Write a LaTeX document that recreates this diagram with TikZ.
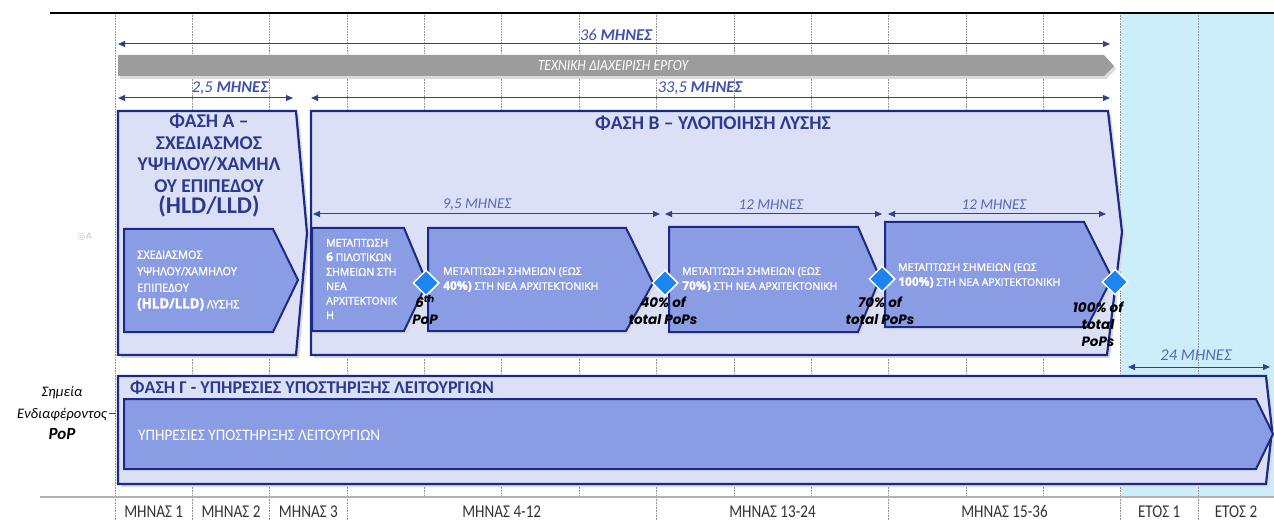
\documentclass[tikz,border=0pt]{standalone}
\usepackage{fontspec}
\setmainfont{Carlito}
\newfontfamily\widefont[FakeBold=1.5]{Open Sans}
\newfontfamily\popfont{Poppins}
\newfontfamily\dejafont{DejaVu Sans}
\usetikzlibrary{arrows.meta,shapes.geometric}
\definecolor{navy}{HTML}{1B2A87}
\definecolor{lav}{HTML}{DCE0F6}
\definecolor{midblue}{HTML}{8A9DE4}
\definecolor{ttl}{HTML}{2B3A90}
\definecolor{dur}{HTML}{3F52AE}
\definecolor{durlight}{HTML}{5468BE}
\definecolor{arr}{HTML}{2D438F}
\definecolor{cyanbg}{HTML}{CCEEFA}
\definecolor{barg}{HTML}{9C9C9C}
\definecolor{dia}{HTML}{1C86F0}
\tikzset{
  outerbox/.style={draw=navy, line width=2.2pt, fill=lav, line join=miter},
  innerbox/.style={draw=navy, line width=2pt, fill=midblue, line join=miter},
  shadowbox/.style={fill=black!14},
  durarrow/.style={draw=arr, line width=1pt, {Triangle[length=7pt,width=6pt]}-{Triangle[length=7pt,width=6pt]}},
  durlabel/.style={text=dur, font=\itshape\fontsize{16.5}{16}\selectfont, inner sep=1pt},
  sublabel/.style={text=durlight, font=\itshape\fontsize{15}{15}\selectfont, inner sep=1pt},
  gridline/.style={draw=gray!85, densely dotted, line width=0.6pt},
  milestone/.style={diamond, fill=dia, draw=white, line width=1.5pt, minimum size=26pt, inner sep=0pt},
  mslabel/.style={font=\popfont\bfseries\itshape\fontsize{13.5}{17}\selectfont, align=center, text=black, inner sep=0pt},
  intext/.style={text=white, align=left, inner sep=0pt, anchor=west},
  titletext/.style={text=ttl, font=\bfseries, inner sep=0pt},
  axislabel/.style={text=black!80, font=\fontsize{18}{18}\selectfont, inner sep=0pt, xscale=0.84, transform shape}
}
\begin{document}
\begin{tikzpicture}[x=1pt,y=-1pt]
\useasboundingbox (0,0) rectangle (1274,521);
\fill[white] (0,0) rectangle (1274,521);
% background year zone
\fill[cyanbg] (1120.5,13) rectangle (1274,497);
% grid
\foreach \k in {0,...,14} \draw[gridline] ({115+77.35*\k},13) -- ({115+77.35*\k},497);
\foreach \xx in {115,192.35,269.7,347.05,656.45,888.5,1120.55,1197.9} \draw[gridline] (\xx,497) -- (\xx,521);
% top and bottom axes
\coordinate (topL) at (50,13); \coordinate (topR) at (1274,13);
\draw[line width=2.5pt] (topL) -- (topR);
\coordinate (axL) at (40,497); \coordinate (axR) at (1274,497);
\draw[gray!60, line width=1.2pt] (axL) -- (axR);
% watermark
\node[text=gray!45, font=\dejafont\fontsize{9}{9}\selectfont, inner sep=0pt] (wm) at (85,237) {◎A};

% 36 months
\coordinate (a36L) at (118,44); \coordinate (a36R) at (1110,44);
\draw[durarrow] (a36L) -- (a36R);
\node[durlabel] (l36) at (616,34.5) {36 \textbf{ΜΗΝΕΣ}};
% grey bar
\fill[shadowbox] (120,58) -- (1106,58) -- (1116,69) -- (1106,79) -- (120,79) -- cycle;
\fill[barg] (118,55) -- (1104,55) -- (1114,66) -- (1104,76) -- (118,76) -- cycle;
\node[text=white, font=\itshape\fontsize{15.5}{15}\selectfont, inner sep=0pt, xscale=0.88, transform shape] (bar) at (613,65.5) {ΤΕΧΝΙΚΗ ΔΙΑΧΕΙΡΙΣΗ ΕΡΓΟΥ};
% 2,5 and 33,5 months
\coordinate (a25L) at (118,98); \coordinate (a25R) at (293,98);
\draw[durarrow] (a25L) -- (a25R);
\node[durlabel] (l25) at (230,88.5) {2,5 \textbf{ΜΗΝΕΣ}};
\coordinate (a335L) at (311,98); \coordinate (a335R) at (1110,98);
\draw[durarrow] (a335L) -- (a335R);
\node[durlabel] (l335) at (700,88.5) {33,5 \textbf{ΜΗΝΕΣ}};

% Phase A
\fill[shadowbox] (121,114) -- (299,114) -- (310,236) -- (299,358) -- (121,358) -- cycle;
\draw[outerbox] (118,111) -- (296,111) -- (307,233) -- (296,355) -- (118,355) -- cycle;
\node[titletext, align=center, font=\bfseries\fontsize{19.5}{21.5}\selectfont] (ttlA) at (209,166)
  {ΦΑΣΗ Α –\\ΣΧΕΔΙΑΣΜΟΣ\\ΥΨΗΛΟΥ/ΧΑΜΗΛ\\ΟΥ ΕΠΙΠΕΔΟΥ\\{\fontsize{24}{23}\selectfont (HLD/LLD)}};
\draw[innerbox] (124,229) -- (273,229) -- (298,280) -- (273,332) -- (124,332) -- cycle;
\node[intext, font=\widefont\fontsize{11.5}{16.5}\selectfont, xscale=0.95, transform shape] (inA) at (137,280.5)
  {ΣΧΕΔΙΑΣΜΟΣ\\ΥΨΗΛΟΥ/ΧΑΜΗΛΟΥ\\ΕΠΙΠΕΔΟΥ\\{\bfseries\fontsize{14}{14}\selectfont (HLD/LLD)} ΛΥΣΗΣ};

% Phase B
\fill[shadowbox] (314,114) -- (1111,114) -- (1125,235) -- (1110,358) -- (314,358) -- cycle;
\draw[outerbox] (311,111) -- (1108,111) -- (1122,232) -- (1107,355) -- (311,355) -- cycle;
\node[titletext, font=\bfseries\fontsize{19.5}{19}\selectfont] (ttlB) at (713,123) {ΦΑΣΗ Β – ΥΛΟΠΟΙΗΣΗ ΛΥΣΗΣ};

\coordinate (a95L) at (313,214); \coordinate (a95R) at (660,214);
\draw[durarrow] (a95L) -- (a95R);
\node[sublabel] (l95) at (477,204.5) {9,5 ΜΗΝΕΣ};
\coordinate (a12aL) at (665,214); \coordinate (a12aR) at (882,214);
\draw[durarrow] (a12aL) -- (a12aR);
\node[sublabel] (l12a) at (771,204.5) {12 ΜΗΝΕΣ};
\coordinate (a12bL) at (888,214); \coordinate (a12bR) at (1106,214);
\draw[durarrow] (a12bL) -- (a12bR);
\node[sublabel] (l12b) at (994,204.5) {12 ΜΗΝΕΣ};

\fill[shadowbox] (315,231) -- (407,231) -- (430,286) -- (407,334) -- (315,334) -- cycle;
\draw[innerbox] (312,228) -- (404,228) -- (427,283) -- (404,331) -- (312,331) -- cycle;
\node[intext, font=\widefont\fontsize{10.5}{14.5}\selectfont] (in1) at (326,279)
  {ΜΕΤΑΠΤΩΣΗ\\{\bfseries\fontsize{12}{12}\selectfont 6} ΠΙΛΟΤΙΚΩΝ\\ΣΗΜΕΙΩΝ ΣΤΗ\\ΝΕΑ\\ΑΡΧΙΤΕΚΤΟΝΙΚ\\Η};
\fill[shadowbox] (431,231) -- (629,231) -- (656,286) -- (629,334) -- (431,334) -- cycle;
\draw[innerbox] (428,228) -- (626,228) -- (653,283) -- (626,331) -- (428,331) -- cycle;
\node[intext, font=\widefont\fontsize{10.5}{15}\selectfont] (in2) at (443,279.5)
  {ΜΕΤΑΠΤΩΣΗ ΣΗΜΕΙΩΝ (ΕΩΣ\\{\bfseries\fontsize{12}{12}\selectfont 40\%)} ΣΤΗ ΝΕΑ ΑΡΧΙΤΕΚΤΟΝΙΚΗ};
\fill[shadowbox] (672,230) -- (861,230) -- (883,281) -- (861,335) -- (672,335) -- cycle;
\draw[innerbox] (669,227) -- (858,227) -- (880,278) -- (858,332) -- (669,332) -- cycle;
\node[intext, font=\widefont\fontsize{10.5}{15}\selectfont] (in3) at (682,279.5)
  {ΜΕΤΑΠΤΩΣΗ ΣΗΜΕΙΩΝ (ΕΩΣ\\{\bfseries\fontsize{12}{12}\selectfont 70\%)} ΣΤΗ ΝΕΑ ΑΡΧΙΤΕΚΤΟΝΙΚΗ};
\fill[shadowbox] (888,225) -- (1087,225) -- (1115,281) -- (1090,330) -- (888,330) -- cycle;
\draw[innerbox] (885,222) -- (1084,222) -- (1112,278) -- (1087,327) -- (885,327) -- cycle;
\node[intext, font=\widefont\fontsize{10.5}{15}\selectfont] (in4) at (898,275.5)
  {ΜΕΤΑΠΤΩΣΗ ΣΗΜΕΙΩΝ (ΕΩΣ\\{\bfseries\fontsize{12}{12}\selectfont 100\%)} ΣΤΗ ΝΕΑ ΑΡΧΙΤΕΚΤΟΝΙΚΗ};

% milestones
\node[milestone] (m1) at (426,283) {};
\node[milestone] (m2) at (665,283) {};
\node[milestone] (m3) at (882,279) {};
\node[milestone] (m4) at (1115,282) {};
\node[mslabel] (ml1) at (425,310) {6\textsuperscript{th}\\PoP};
\node[mslabel] (ml2) at (663,310.5) {40\% of\\total PoPs};
\node[mslabel] (ml3) at (880,311) {70\% of\\total PoPs};
\node[mslabel] (ml4) at (1098,324) {100\% of\\total\\PoPs};

% 24 months
\coordinate (a24L) at (1128,367); \coordinate (a24R) at (1270,367);
\draw[durarrow] (a24L) -- (a24R);
\node[sublabel, font=\itshape\fontsize{16.5}{16}\selectfont] (l24) at (1196,355.5) {24 ΜΗΝΕΣ};

% Phase C
\fill[shadowbox] (121,379) -- (1269,379) -- (1275,433) -- (1269,487) -- (121,487) -- cycle;
\draw[outerbox] (118,376) -- (1266,376) -- (1272,430) -- (1266,484) -- (118,484) -- cycle;
\node[titletext, anchor=west, font=\bfseries\fontsize{18}{18}\selectfont] (ttlC) at (130,387.5) {ΦΑΣΗ Γ - ΥΠΗΡΕΣΙΕΣ ΥΠΟΣΤΗΡΙΞΗΣ ΛΕΙΤΟΥΡΓΙΩΝ};
\draw[innerbox] (124,399) -- (1256,399) -- (1273,434) -- (1256,469) -- (124,469) -- cycle;
\node[intext, font=\fontsize{16}{16}\selectfont, xscale=0.95, transform shape] (inC) at (138,435) {ΥΠΗΡΕΣΙΕΣ ΥΠΟΣΤΗΡΙΞΗΣ ΛΕΙΤΟΥΡΓΙΩΝ};

% left labels
\node[align=center, inner sep=0pt, font=\itshape\fontsize{14.5}{21.5}\selectfont] (lpop) at (62,413)
  {Σημεία\\Ενδιαφέροντος\\{\bfseries\fontsize{17}{15}\selectfont PoP}};
\coordinate (tickL) at (109,413); \coordinate (tickR) at (116,413);
\draw[black!70, line width=0.8pt] (tickL) -- (tickR);

% bottom labels
\node[axislabel] (b1) at (153.7,511.5) {ΜΗΝΑΣ 1};
\node[axislabel] (b2) at (231,511.5) {ΜΗΝΑΣ 2};
\node[axislabel] (b3) at (308.4,511.5) {ΜΗΝΑΣ 3};
\node[axislabel] (b4) at (501.7,511.5) {ΜΗΝΑΣ 4-12};
\node[axislabel] (b5) at (772.5,511.5) {ΜΗΝΑΣ 13-24};
\node[axislabel] (b6) at (1004.5,511.5) {ΜΗΝΑΣ 15-36};
\node[axislabel] (b7) at (1159.2,511.5) {ΕΤΟΣ 1};
\node[axislabel] (b8) at (1236,511.5) {ΕΤΟΣ 2};
\end{tikzpicture}
\end{document}
